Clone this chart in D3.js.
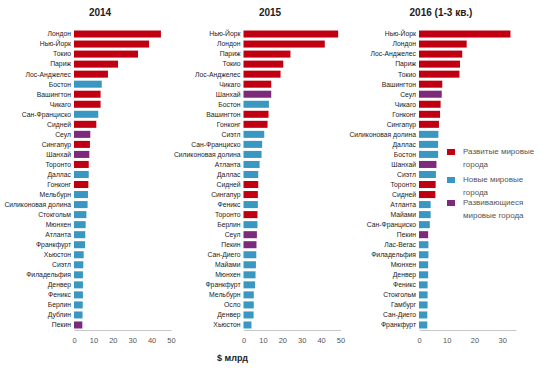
<!DOCTYPE html>
<html><head><meta charset="utf-8">
<script src="https://cdn.jsdelivr.net/npm/d3@7"></script>
<style>body{margin:0;background:#fff}svg{display:block}text{font-family:"Liberation Sans",Arial,sans-serif}</style>
</head><body><svg id="c" width="560" height="372"></svg>
<script>
const cities2014 = ["Лондон","Нью-Йорк","Токио","Париж","Лос-Анджелес","Бостон","Вашингтон","Чикаго","Сан-Франциско","Сидней","Сеул","Сингапур","Шанхай","Торонто","Даллас","Гонконг","Мельбурн","Силиконовая долина","Стокгольм","Мюнхен","Атланта","Франкфурт","Хьюстон","Сиэтл","Филадельфия","Денвер","Феникс","Берлин","Дублин","Пекин"];
const values2014 = [44.8,38.7,33,22.7,17.5,14.3,13.7,13.7,12.5,11.5,8.4,8.2,7.9,7.6,7.6,7.4,7.2,7.0,6.4,6.0,5.8,5.7,5.0,4.8,4.6,4.6,4.6,4.5,4.4,4.3];
const types2014 = ["d","d","d","d","d","n","d","d","n","d","e","d","e","d","n","d","n","n","n","n","n","n","n","n","n","n","n","n","n","e"];

const cities2015 = ["Нью-Йорк","Лондон","Париж","Токио","Лос-Анджелес","Чикаго","Шанхай","Бостон","Вашингтон","Гонконг","Сиэтл","Сан-Франциско","Силиконовая долина","Атланта","Даллас","Сидней","Сингапур","Феникс","Торонто","Берлин","Сеул","Пекин","Сан-Диего","Майами","Мюнхен","Франкфурт","Мельбурн","Осло","Денвер","Хьюстон"];
const values2015 = [48.8,41.9,24.2,20.5,19.1,14.3,14.3,13.1,12.9,12.4,10.7,9.6,9.3,8.3,7.6,7.6,7.4,7.4,7.2,7.2,6.9,6.7,6.6,6.4,6.2,6.0,5.3,5.3,5.2,4.1];
const types2015 = ["d","d","d","d","d","d","e","n","d","d","n","n","n","n","n","d","d","n","d","n","e","e","n","n","n","n","n","n","n","n"];

const cities2016 = ["Нью-Йорк","Лондон","Лос-Анджелес","Париж","Токио","Вашингтон","Сеул","Чикаго","Гонконг","Сингапур","Силиконовая долина","Даллас","Бостон","Шанхай","Сиэтл","Торонто","Сидней","Атланта","Майами","Сан-Франциско","Пекин","Лас-Вегас","Филадельфия","Мюнхен","Денвер","Феникс","Стокгольм","Гамбург","Сан-Диего","Франкфурт"];
const values2016 = [33.0,17.2,15.6,14.8,14.6,8.4,8.2,7.8,7.6,7.2,7.0,6.9,6.9,6.3,6.1,6.0,5.9,4.2,4.2,3.9,3.3,3.4,3.4,3.3,3.3,3.1,3.1,3.1,3.0,3.0];
const types2016 = ["d","d","d","d","d","d","e","d","d","d","n","n","n","e","n","d","d","n","n","n","e","n","n","n","n","n","n","n","n","n"];

const panelTitles = ["2014","2015","2016 (1-3 кв.)"];
const ticks1 = [0,10,20,30,40,50];
const ticks3 = [0,10,20,30];
const legendKeys = ["d","n","e"];
const legendLabels = [["Развитые мировые","города"],["Новые мировые","города"],["Развивающиеся","мировые города"]];
const unitLabel = "$ млрд";

const color = d3.scaleOrdinal().domain(legendKeys).range(["#c00012","#3a97c1","#7b2a7c"]);
const svg = d3.select("#c");

const panels = [
  {cities:cities2014, values:values2014, types:types2014, x0:74, x1:171, max:50, ticks:ticks1, tx:100},
  {cities:cities2015, values:values2015, types:types2015, x0:243.5, x1:340.5, max:50, ticks:ticks1, tx:270},
  {cities:cities2016, values:values2016, types:types2016, x0:419, x1:516, max:35, ticks:ticks3, tx:441}
];

panels.forEach((p,i)=>{
  const x = d3.scaleLinear().domain([0,p.max]).range([p.x0,p.x1]);
  const y = d3.scaleBand().domain(p.cities).range([29,330]).paddingInner(0.3).paddingOuter(0.15);
  const g = svg.append("g");
  g.selectAll("rect").data(p.cities).join("rect")
    .attr("x", x(0)).attr("y", d=>y(d))
    .attr("width", (d,j)=>x(p.values[j])-x(0))
    .attr("height", y.bandwidth())
    .attr("fill", (d,j)=>color(p.types[j]));
  g.selectAll("text.lbl").data(p.cities).join("text").attr("class","lbl")
    .attr("x", x(0)-3).attr("y", d=>y(d)+y.bandwidth()/2)
    .attr("dy","0.35em").attr("text-anchor","end")
    .attr("font-size","6.8px").attr("fill","#222").text(d=>d);
  const ax = g.append("g").attr("transform","translate(0,330)")
    .call(d3.axisBottom(x).tickValues(p.ticks).tickSize(0).tickPadding(8));
  ax.select(".domain").attr("stroke","#c8c8c8");
  ax.selectAll("text").attr("font-size","7.5px").attr("fill","#555").attr("font-family","'Liberation Sans',Arial,sans-serif");
  svg.append("text").attr("x",p.tx).attr("y",16).attr("text-anchor","middle")
    .attr("font-size","10px").attr("font-weight","bold").attr("fill","#222").text(panelTitles[i]);
});

svg.append("text").attr("x",217).attr("y",361).attr("font-size","9px").attr("font-weight","bold").attr("fill","#222").text(unitLabel);

const legY = [149,177,200];
legendKeys.forEach((k,i)=>{
  svg.append("rect").attr("x",447).attr("y",legY[i]).attr("width",8).attr("height",6).attr("fill",color(k));
  legendLabels[i].forEach((t,j)=>{
    svg.append("text").attr("x",463).attr("y",legY[i]+5+j*12.5).attr("font-size","8px").attr("fill","#555").text(t);
  });
});
</script></body></html>
